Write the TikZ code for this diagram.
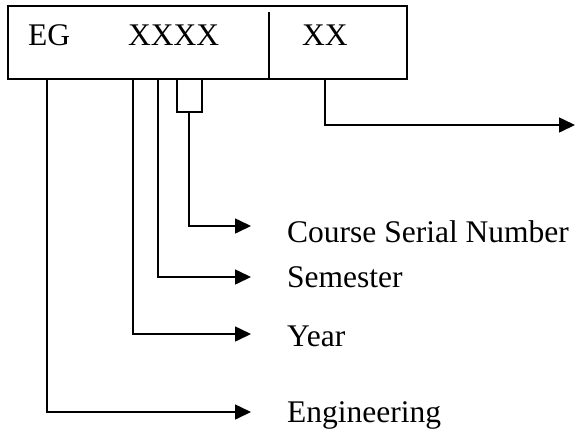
\documentclass[tikz,border=0pt]{standalone}
\usepackage{fontspec}
\setmainfont{Liberation Serif}
\usepackage{tikz}
\usetikzlibrary{arrows.meta}

\tikzset{
  code/.style={inner sep=0pt,anchor=base west,font=\fontsize{31.5}{36}\selectfont},
  item/.style={inner sep=0pt,anchor=base west,font=\fontsize{31.5}{36}\selectfont},
  wire/.style={line width=1.6pt},
  pointer/.style={wire,-{Triangle[length=16pt,width=15pt]}}
}

\begin{document}
\begin{tikzpicture}[x=1pt,y=-1pt]
     \useasboundingbox (0,0) rectangle (575,432);
     % the code box
     \node[draw,line width=1.6pt,minimum width=399pt,minimum height=73pt,inner sep=0pt]
          at (207.5,42.5) (box) {};
     \coordinate (divtop) at (269,12);
     \coordinate (divbot) at (269,79);
     \draw[wire] (divtop) -- (divbot);
     \node[code] at (28,45) (eg) {EG};
     \node[code] at (128,45) (xxxx) {XXXX};
     \node[code] at (302,45) (xx) {XX};
     % stems below the box
     \coordinate (engtop) at (47,79);
     \coordinate (yeartop) at (133,79);
     \coordinate (semtop) at (158,79);
     \coordinate (brl) at (177,79);
     \coordinate (brr) at (202,79);
     \coordinate (brmid) at (189,112);
     \coordinate (xxtop) at (325,79);
     \coordinate (xxend) at (575,125);
     % arrow ends
     \coordinate (csnend) at (251,226);
     \coordinate (semend) at (251,277);
     \coordinate (yearend) at (251,334);
     \coordinate (engend) at (251,412);
     % labels
     \node[item] at (287,242) (csn) {Course Serial Number};
     \node[item] at (287,287) (sem) {Semester};
     \node[item] at (287,346) (year) {Year};
     \node[item] at (287,422) (eng) {Engineering};
     % connectors
     \draw[wire] (brl) |- (brmid) -| (brr);
     \draw[pointer] (brmid) |- (csnend);
     \draw[pointer] (semtop) |- (semend);
     \draw[pointer] (yeartop) |- (yearend);
     \draw[pointer] (engtop) |- (engend);
     \draw[pointer] (xxtop) |- (xxend);
\end{tikzpicture}
\end{document}
